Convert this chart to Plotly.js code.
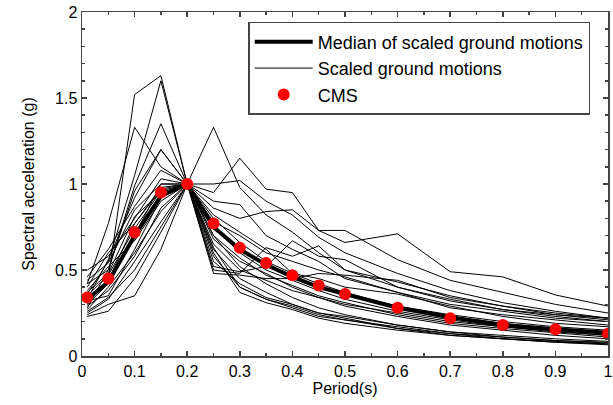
<!DOCTYPE html>
<html>
<head>
<meta charset="utf-8">
<script src="https://cdn.plot.ly/plotly-3.0.1.min.js"></script>
<style>html,body{margin:0;padding:0;background:#fff;}#chart{width:613px;height:405px;}</style>
</head>
<body>
<div id="chart"></div>
<script>
const periods = [0.01,0.05,0.1,0.15,0.2,0.25,0.3,0.35,0.4,0.45,0.5,0.6,0.7,0.8,0.9,1.0];
const cms    = [0.34,0.45,0.72,0.95,1.0,0.77,0.63,0.54,0.47,0.41,0.36,0.28,0.22,0.18,0.155,0.13];
const median = [0.33,0.43,0.70,0.93,1.0,0.75,0.62,0.53,0.46,0.40,0.36,0.28,0.225,0.18,0.155,0.135];
const gm1  = [0.30,0.45,1.52,1.63,1.0,0.70,0.52,0.42,0.34,0.28,0.24,0.18,0.14,0.11,0.09,0.08];
const gm2  = [0.36,0.55,1.05,1.60,1.0,0.62,0.45,0.37,0.30,0.25,0.22,0.16,0.13,0.10,0.08,0.07];
const gm3  = [0.42,0.77,1.33,1.10,1.0,0.80,0.66,0.55,0.48,0.42,0.37,0.29,0.24,0.20,0.17,0.15];
const gm4  = [0.28,0.50,0.99,1.35,1.0,0.58,0.40,0.33,0.28,0.23,0.21,0.16,0.12,0.10,0.085,0.07];
const gm5  = [0.33,0.56,0.92,1.20,1.0,0.75,0.60,0.50,0.44,0.38,0.33,0.26,0.21,0.17,0.145,0.12];
const gm6  = [0.46,0.62,0.87,1.08,1.0,1.33,0.98,0.82,0.72,0.60,0.50,0.40,0.32,0.27,0.24,0.22];
const gm7  = [0.50,0.58,0.80,1.03,1.0,0.95,1.15,0.97,0.95,0.73,0.73,0.56,0.44,0.37,0.30,0.25];
const gm8  = [0.40,0.60,0.77,0.98,1.0,1.00,1.02,0.90,0.82,0.69,0.60,0.48,0.38,0.31,0.26,0.22];
const gm9  = [0.44,0.54,0.85,1.00,1.0,0.86,0.80,0.84,0.85,0.73,0.66,0.71,0.49,0.46,0.355,0.29];
const gm10 = [0.38,0.52,0.67,0.90,1.0,0.78,0.70,0.60,0.55,0.50,0.46,0.37,0.30,0.26,0.22,0.20];
const gm11 = [0.27,0.40,0.60,0.84,1.0,0.50,0.48,0.63,0.58,0.64,0.50,0.43,0.35,0.29,0.24,0.21];
const gm12 = [0.25,0.33,0.55,0.78,1.0,0.52,0.49,0.52,0.67,0.58,0.56,0.40,0.33,0.27,0.23,0.20];
const gm13 = [0.23,0.26,0.45,0.72,1.0,0.60,0.37,0.31,0.27,0.22,0.19,0.15,0.12,0.10,0.08,0.065];
const gm14 = [0.24,0.30,0.35,0.62,1.0,0.63,0.40,0.33,0.29,0.24,0.21,0.17,0.13,0.11,0.09,0.075];
const gm15 = [0.32,0.35,0.62,0.92,1.0,0.55,0.42,0.34,0.30,0.25,0.23,0.18,0.14,0.12,0.10,0.085];
const gm16 = [0.35,0.47,0.74,0.96,1.0,0.70,0.57,0.47,0.41,0.35,0.31,0.24,0.19,0.16,0.135,0.11];
const gm17 = [0.30,0.42,0.70,1.00,1.0,0.82,0.72,0.62,0.48,0.45,0.40,0.36,0.29,0.23,0.19,0.17];
const gm18 = [0.37,0.48,0.81,0.95,1.0,0.90,0.88,0.70,0.62,0.55,0.45,0.37,0.28,0.24,0.21,0.18];
const gm19 = [0.29,0.38,0.58,0.86,1.0,0.68,0.55,0.48,0.40,0.34,0.30,0.25,0.20,0.17,0.14,0.12];
const gm20 = [0.42,0.50,0.96,1.20,1.0,0.74,0.63,0.53,0.46,0.40,0.36,0.29,0.23,0.19,0.16,0.13];
const gm21 = [0.26,0.34,0.50,0.75,1.0,0.48,0.47,0.45,0.45,0.48,0.47,0.44,0.34,0.29,0.25,0.22];
const gm22 = [0.31,0.44,0.77,0.97,1.0,0.65,0.50,0.44,0.38,0.34,0.29,0.23,0.18,0.15,0.12,0.10];
const groundMotions = [gm1,gm2,gm3,gm4,gm5,gm6,gm7,gm8,gm9,gm10,gm11,gm12,gm13,gm14,gm15,gm16,gm17,gm18,gm19,gm20,gm21,gm22];

const FONT = 'Liberation Sans, Arial, sans-serif';
const traces = [];
groundMotions.forEach((g, i) => {
  traces.push({
    x: periods, y: g, type: 'scatter', mode: 'lines',
    line: {color: '#000', width: 1},
    name: 'Scaled ground motions', legendgroup: 'gm', showlegend: i === 0,
    legendrank: 2
  });
});
traces.push({x: periods, y: median, type: 'scatter', mode: 'lines',
  line: {color: '#000', width: 4}, name: 'Median of scaled ground motions', legendrank: 1});
traces.push({x: periods, y: cms, type: 'scatter', mode: 'markers',
  marker: {color: '#ff0000', size: 12}, name: 'CMS', legendrank: 3});

const axisCommon = {
  showline: true, linecolor: '#444', linewidth: 1.5, mirror: 'ticks',
  ticks: 'inside', ticklen: 5, tickcolor: '#444', tickwidth: 1.5,
  showgrid: false, zeroline: false,
  tickfont: {family: FONT, size: 16, color: '#000'}
};
const layout = {
  width: 613, height: 405,
  margin: {l: 82, r: 5, t: 12, b: 49},
  paper_bgcolor: '#fff', plot_bgcolor: '#fff',
  font: {family: FONT, color: '#000'},
  xaxis: Object.assign({}, axisCommon, {
    range: [0, 1], dtick: 0.1, tick0: 0,
    minor: {ticks: 'inside', dtick: 0.05, ticklen: 3, tickcolor: '#444', tickwidth: 1.5},
    title: {text: 'Period(s)', font: {family: FONT, size: 16}, standoff: 3}
  }),
  yaxis: Object.assign({}, axisCommon, {
    range: [0, 2], dtick: 0.5, tick0: 0,
    minor: {ticks: 'inside', dtick: 0.1, ticklen: 3, tickcolor: '#444', tickwidth: 1.5},
    title: {text: 'Spectral acceleration (g)', font: {family: FONT, size: 16}, standoff: 16}
  }),
  legend: {
    x: 0.316, y: 0.971, xanchor: 'left', yanchor: 'top',
    bordercolor: '#444', borderwidth: 1.5, bgcolor: '#fff',
    font: {family: FONT, size: 18, color: '#000'},
    itemwidth: 58,
    tracegroupgap: 0, traceorder: 'grouped'
  },
  showlegend: true
};
Plotly.newPlot('chart', traces, layout, {staticPlot: true, displayModeBar: false});
</script>
</body>
</html>
